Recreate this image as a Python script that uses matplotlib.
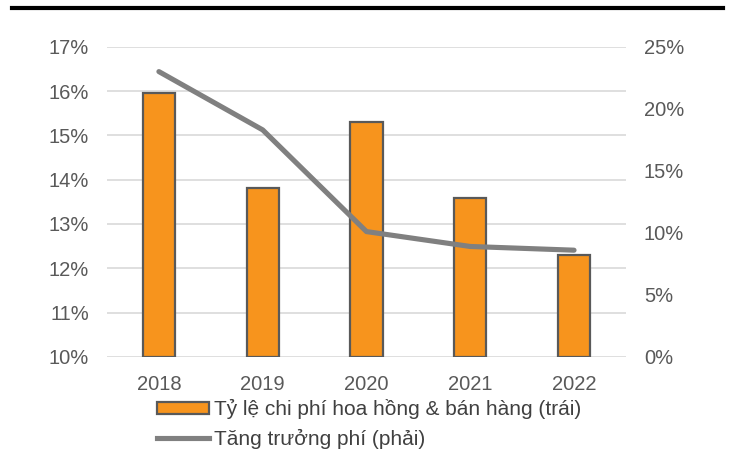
import matplotlib.pyplot as plt
from matplotlib.ticker import FuncFormatter
from matplotlib.lines import Line2D

plt.rcParams["font.family"] = ["Liberation Sans", "DejaVu Sans"]
plt.rcParams["font.size"] = 14.5

years = ["2018", "2019", "2020", "2021", "2022"]
ty_le_chi_phi = [15.96, 13.81, 15.31, 13.58, 12.30]   # % (left)
tang_truong = [23.0, 18.3, 10.1, 8.9, 8.6]            # % (right)

bar_label = "Tỷ lệ chi phí hoa hồng & bán hàng (trái)"
line_label = "Tăng trưởng phí (phải)"

orange = "#F7941D"
grey_line = "#808080"
txt = "#595959"

fig = plt.figure(figsize=(7.35, 4.5), dpi=100)
ax = fig.add_axes([0.1456, 0.207, 0.706, 0.689])
ax2 = ax.twinx()

x = range(len(years))
ax.bar(x, [v - 10 for v in ty_le_chi_phi], bottom=10, width=0.31,
       color=orange, edgecolor="#595959", linewidth=1.6, zorder=2)
ax.set_ylim(10, 17)
ax.set_xlim(-0.5, 4.5)
ax.set_yticks(range(10, 18))
ax.yaxis.set_major_formatter(FuncFormatter(lambda v, p: f"{v:.0f}%"))
ax.set_xticks(list(x))
ax.set_xticklabels(years)
ax.grid(axis="y", color="#D9D9D9", linewidth=1.2, zorder=0)
ax.set_axisbelow(True)

ax2.plot(x, tang_truong, color=grey_line, linewidth=3.7, solid_capstyle="round", zorder=3)
ax2.set_ylim(0, 25)
ax2.set_yticks(range(0, 26, 5))
ax2.yaxis.set_major_formatter(FuncFormatter(lambda v, p: f"{v:.0f}%"))

for a in (ax, ax2):
    for s in a.spines.values():
        s.set_visible(False)
    a.tick_params(length=0, colors=txt, labelsize=14.5)
ax.tick_params(axis="y", pad=13)
ax2.tick_params(axis="y", pad=13)
ax.tick_params(axis="x", pad=13)

handles = [
    plt.Rectangle((0, 0), 1, 1, facecolor=orange, edgecolor="#595959", linewidth=1.6),
    Line2D([0], [0], color=grey_line, linewidth=3.7),
]
fig.legend(handles, [bar_label, line_label], loc="upper left",
           bbox_to_anchor=(0.2136, 0.113), frameon=False, fontsize=15,
           handlelength=2.5, handleheight=0.55, handletextpad=0.25,
           labelspacing=0.45, borderpad=0, borderaxespad=0,
           labelcolor="#404040")

# thick rule across the top
fig.add_artist(Line2D([0.016, 0.983], [0.982, 0.982], color="black",
                      linewidth=3, transform=fig.transFigure))

fig.savefig("out.png", dpi=100)
